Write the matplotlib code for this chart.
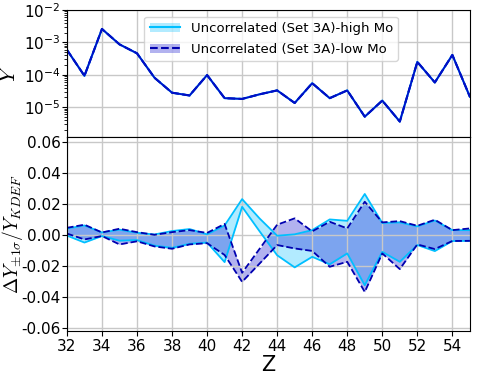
import numpy as np
import matplotlib
matplotlib.use('Agg')
import matplotlib.pyplot as plt
from matplotlib.patches import Patch
from matplotlib.lines import Line2D
from matplotlib.ticker import LogLocator, NullFormatter

plt.rcParams['mathtext.fontset'] = 'cm'
plt.rcParams['axes.unicode_minus'] = False

# Atomic number
Z = np.arange(32, 56)

# Abundance Y (both sets lie on top of each other)
Y = [5.9e-4, 9.3e-5, 2.6e-3, 8.7e-4, 4.6e-4, 8.1e-5, 2.8e-5, 2.3e-5, 9.8e-5, 1.9e-5,
     1.8e-5, 2.5e-5, 3.3e-5, 1.35e-5, 5.5e-5, 1.9e-5, 3.3e-5, 5.1e-6, 1.6e-5, 3.6e-6,
     2.5e-4, 5.8e-5, 4.1e-4, 2.1e-5]

# relative +/- 1 sigma, high Mo
high_up = [0.0040, 0.0060, 0.0015, 0.0033, 0.0013, 0.0002, 0.0024, 0.0037, 0.0003, 0.0060,
           0.0230, 0.0105, -0.0006, 0.0003, 0.0030, 0.0099, 0.0090, 0.0263, 0.0076, 0.0080,
           0.0054, 0.0092, 0.0030, 0.0030]
high_lo = [-0.0005, -0.0050, -0.0008, -0.0038, -0.0034, -0.0070, -0.0084, -0.0058, -0.0050, -0.0176,
           0.0180, 0.0022, -0.0132, -0.0210, -0.0142, -0.0190, -0.0120, -0.0325, -0.0110, -0.0174,
           -0.0066, -0.0105, -0.0040, -0.0039]
# relative +/- 1 sigma, low Mo
low_up = [0.0045, 0.0065, 0.0015, 0.0039, 0.0017, 0.0000, 0.0017, 0.0030, 0.0012, 0.0070,
          -0.0245, -0.0090, 0.0065, 0.0106, 0.0022, 0.0084, 0.0041, 0.0213, 0.0080, 0.0088,
          0.0058, 0.0097, 0.0030, 0.0041]
low_lo = [0.0008, -0.0030, -0.0008, -0.0062, -0.0042, -0.0075, -0.0090, -0.0062, -0.0054, -0.0130,
          -0.0303, -0.0185, -0.0066, -0.0088, -0.0104, -0.0206, -0.0174, -0.0368, -0.0120, -0.0221,
          -0.0062, -0.0092, -0.0040, -0.0039]

c_high = '#00bfff'
c_low = '#0000b0'
f_low = '#0000cd'

fig = plt.figure(figsize=(4.78, 3.78), dpi=100)
gs = fig.add_gridspec(2, 1, height_ratios=[127, 194], hspace=0,
                      left=0.140, right=0.983, top=0.9735, bottom=0.1243)
ax1 = fig.add_subplot(gs[0])
ax2 = fig.add_subplot(gs[1], sharex=ax1)

## Top panel ##
ax1.plot(Z, Y, color=c_high, lw=1.5)
ax1.plot(Z, Y, color=c_low, lw=1.5, ls='--')
ax1.plot(Z, Y, color='#0010c8', lw=1.3)
ax1.set_yscale('log')
ax1.set_ylim(1.2e-6, 1e-2)
ax1.set_yticks([1e-5, 1e-4, 1e-3, 1e-2])
ax1.yaxis.set_minor_locator(LogLocator(base=10, subs=np.arange(2, 10), numticks=20))
ax1.yaxis.set_minor_formatter(NullFormatter())
ax1.set_ylabel(r'$Y$', fontsize=16)
ax1.yaxis.set_label_coords(-0.118, 0.5)
ax1.grid(True, which='major', color='#c8c8c8', lw=1)
ax1.tick_params(labelbottom=False, labelsize=11)
ax1.tick_params(axis='y', pad=1)

h1 = (Patch(facecolor=c_high, alpha=0.3), Line2D([], [], color=c_high, lw=1.5))
h2 = (Patch(facecolor=f_low, alpha=0.3), Line2D([], [], color=c_low, lw=1.5, ls='--'))
ax1.legend([h1, h2], ['Uncorrelated (Set 3A)-high Mo', 'Uncorrelated (Set 3A)-low Mo'],
           loc='upper center', bbox_to_anchor=(0.507, 1.0), fontsize=9.5,
           labelspacing=0.6, handlelength=2.3, framealpha=0.8)

## Bottom panel ##
ax2.fill_between(Z, high_lo, high_up, color=c_high, alpha=0.3, lw=0)
ax2.fill_between(Z, low_lo, low_up, color=f_low, alpha=0.3, lw=0)
ax2.plot(Z, high_up, color=c_high, lw=1.3)
ax2.plot(Z, high_lo, color=c_high, lw=1.3)
ax2.plot(Z, low_up, color=c_low, lw=1.3, ls='--')
ax2.plot(Z, low_lo, color=c_low, lw=1.3, ls='--')
ax2.set_ylim(-0.062, 0.063)
ax2.set_yticks([-0.06, -0.04, -0.02, 0.0, 0.02, 0.04, 0.06])
ax2.set_xlim(32, 55)
ax2.set_xticks(np.arange(32, 56, 2))
ax2.grid(True, color='#c8c8c8', lw=1)
ax2.tick_params(labelsize=11, pad=2)
ax2.tick_params(axis='y', pad=1)
ax2.set_ylabel(r'$\Delta Y_{\pm 1\sigma}/Y_{KDEF}$', fontsize=14)
ax2.yaxis.set_label_coords(-0.104, 0.5)
ax2.set_xlabel('Z', fontsize=15, labelpad=1)

plt.savefig('out.png', dpi=100)
